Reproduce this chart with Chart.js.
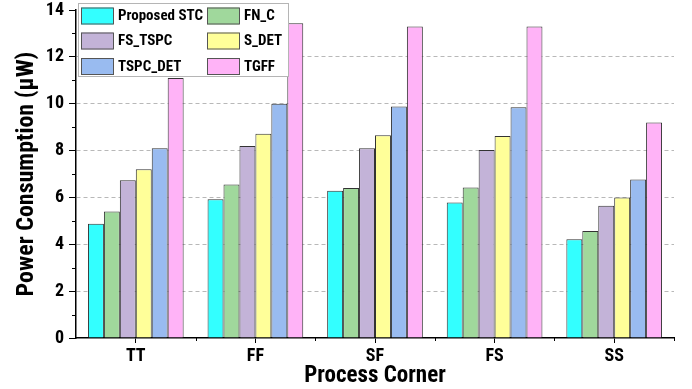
<!DOCTYPE html>
<html>
<head>
<meta charset="UTF-8">
<script src="https://cdn.jsdelivr.net/npm/chart.js"></script>
<style>
  body { margin: 0; background: #fff; }
  #grafico { display: block; }
</style>
</head>
<body>
<canvas id="grafico" width="692" height="389"></canvas>
<script>
  const corners = ['TT', 'FF', 'SF', 'FS', 'SS']
  const seriesNames = ['Proposed STC', 'FN_C', 'FS_TSPC', 'S_DET', 'TSPC_DET', 'TGFF']
  const proposedStc = [4.88, 5.92, 6.28, 5.78, 4.22]
  const fnC = [5.40, 6.55, 6.40, 6.42, 4.57]
  const fsTspc = [6.73, 8.20, 8.10, 8.02, 5.65]
  const sDet = [7.20, 8.72, 8.65, 8.62, 6.00]
  const tspcDet = [8.10, 10.00, 9.88, 9.85, 6.76]
  const tgff = [11.10, 13.43, 13.30, 13.30, 9.20]
  const yTicks = [0, 2, 4, 6, 8, 10, 12, 14]

  const cores = ['#33FFFF', '#A0D89C', '#C3B3D8', '#FFFF99', '#99BBF0', '#FFB3F7']
  const fonte = "'Roboto Condensed', 'Liberation Sans', Arial, sans-serif"

  const valores = [proposedStc, fnC, fsTspc, sDet, tspcDet, tgff]

  // legenda dentro da area do grafico, 2 colunas x 3 linhas
  const legendaPlugin = {
    id: 'legendaInterna',
    afterDraw(chart) {
      const ctx = chart.ctx
      const x0 = chart.chartArea.left + 2, y0 = 3
      ctx.save()
      ctx.fillStyle = '#fff'
      ctx.fillRect(x0, y0, 210, 73)
      ctx.strokeStyle = '#b5b5b5'
      ctx.lineWidth = 1
      ctx.strokeRect(x0 + 0.5, y0 + 0.5, 210, 73)
      ctx.font = "bold 15px " + fonte
      ctx.textBaseline = 'middle'
      const linhas = [15.5, 40.5, 66]
      chart.data.datasets.forEach(function (ds, i) {
        const col = i % 2, lin = Math.floor(i / 2)
        const sx = x0 + 3 + col * 126
        const cy = linhas[lin]
        ctx.fillStyle = ds.backgroundColor
        ctx.fillRect(sx, cy - 8, 32, 17)
        ctx.strokeStyle = '#555'
        ctx.strokeRect(sx + 0.5, cy - 7.5, 32, 16)
        ctx.fillStyle = '#000'
        ctx.fillText(ds.label, sx + 37, cy + 1)
      })
      ctx.restore()
    }
  }

  // ticks menores nos dois eixos
  const ticksMenores = {
    id: 'ticksMenores',
    afterDraw(chart) {
      const ctx = chart.ctx
      const a = chart.chartArea
      const y = chart.scales.y
      ctx.save()
      ctx.strokeStyle = '#000'
      ctx.lineWidth = 1
      ctx.beginPath()
      for (let v = 1; v < 14; v += 2) {
        const py = Math.round(y.getPixelForValue(v)) + 0.5
        ctx.moveTo(a.left - 4, py)
        ctx.lineTo(a.left, py)
      }
      const passo = (a.right - a.left) / corners.length
      for (let k = 1; k <= corners.length; k++) {
        const px = Math.round(a.left + k * passo) + 0.5
        ctx.moveTo(px, a.bottom)
        ctx.lineTo(px, a.bottom + 3)
      }
      ctx.stroke()
      ctx.restore()
    }
  }

  new Chart(document.getElementById('grafico'), {
    type: 'bar',
    data: {
      labels: corners,
      datasets: seriesNames.map(function (nome, i) {
        return {
          label: nome,
          data: valores[i],
          backgroundColor: cores[i],
          borderColor: '#333',
          borderWidth: 1,
          categoryPercentage: 0.8,
          barPercentage: 1.0
        }
      })
    },
    options: {
      responsive: false,
      animation: false,
      layout: { padding: { top: 10, right: 18, left: 0, bottom: 0 } },
      plugins: {
        legend: { display: false },
        tooltip: { enabled: false }
      },
      scales: {
        x: {
          afterFit: function (s) { s.height = 51; s.paddingLeft = 0; s.paddingRight = 0 },
          grid: { display: true, drawOnChartArea: false, offset: false, color: '#000', tickLength: 5 },
          border: { color: '#000', width: 1.5 },
          ticks: { color: '#000', font: { family: fonte, size: 18, weight: 'bold' }, padding: 3 },
          title: { display: true, text: 'Process Corner', color: '#000', font: { family: fonte, size: 23, weight: 'bold', lineHeight: 1 }, padding: { top: 0, bottom: 1 } }
        },
        y: {
          min: 0,
          max: 14,
          afterFit: function (s) { s.width = 76; s.paddingTop = 0; s.paddingBottom = 0 },
          afterBuildTicks: function (scale) {
            const t = []
            for (let v = 0; v <= 14; v++) t.push({ value: v })
            scale.ticks = t
          },
          grid: {
            color: function (c) {
              if (c.tick.value === 0 || c.tick.value === 14) return 'rgba(0,0,0,0)'
              return c.tick.value % 2 === 0 ? '#b8b8b8' : '#dcdcdc'
            },
            tickColor: function (c) {
              return c.tick.value % 2 === 0 ? '#000' : 'rgba(0,0,0,0)'
            },
            tickLength: 7,
            lineWidth: 1
          },
          border: {
            color: '#000',
            width: 1.5,
            dash: function (c) { return c.tick && c.tick.value % 2 === 0 ? [4, 3] : [2, 2] }
          },
          ticks: {
            color: '#000',
            font: { family: fonte, size: 18, weight: 'bold' },
            padding: 5,
            callback: function (v) { return yTicks.includes(v) ? v : '' }
          },
          title: { display: true, text: 'Power Consumption (μW)', color: '#000', font: { family: fonte, size: 24, weight: 'bold', lineHeight: 1 }, padding: { top: 15, bottom: 0 } }
        }
      }
    },
    plugins: [legendaPlugin, ticksMenores]
  })
</script>
</body>
</html>
